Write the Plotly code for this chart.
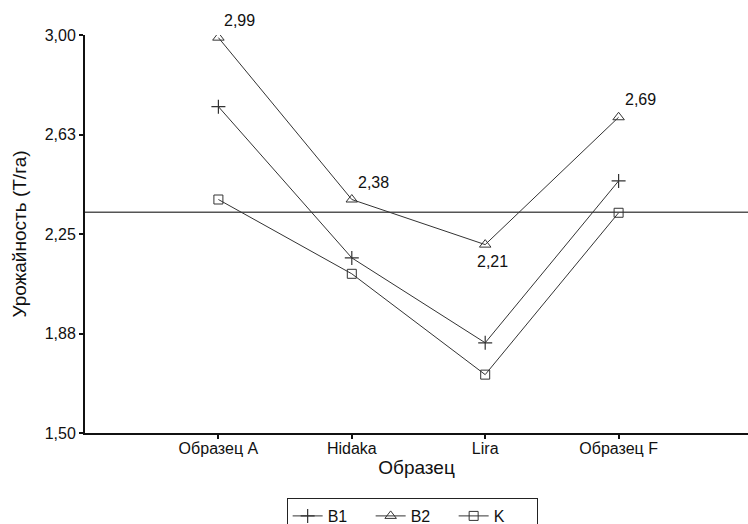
import plotly.graph_objects as go

categories = ["Образец A", "Hidaka", "Lira", "Образец F"]
b1 = [2.73, 2.16, 1.84, 2.45]
b2 = [2.99, 2.38, 2.21, 2.69]
k = [2.38, 2.10, 1.72, 2.33]
b2_labels = ["2,99", "2,38", "2,21", "2,69"]
y_ticks = [1.5, 1.875, 2.25, 2.625, 3.0]
y_tick_labels = ["1,50", "1,88", "2,25", "2,63", "3,00"]

x_idx = list(range(len(categories)))
all_vals = b1 + b2 + k
grand_mean = sum(all_vals) / len(all_vals)

FONT = "Liberation Sans, Arial, sans-serif"
LINE = "#333333"
TEXT = "#111111"

fig = go.Figure()

# overall mean reference line
fig.add_trace(go.Scatter(
    x=[-1, 4], y=[grand_mean, grand_mean], mode="lines",
    line=dict(color="#555555", width=1.5), showlegend=False, hoverinfo="skip"))

fig.add_trace(go.Scatter(
    x=x_idx, y=b1, name="B1", mode="lines+markers",
    line=dict(color=LINE, width=1),
    marker=dict(symbol="cross-thin-open", size=10, color=LINE,
                line=dict(color=LINE, width=1.2))))

fig.add_trace(go.Scatter(
    x=x_idx, y=b2, name="B2", mode="lines+markers",
    line=dict(color=LINE, width=1),
    marker=dict(symbol="triangle-up-open", size=10, color=LINE,
                line=dict(color=LINE, width=1))))

fig.add_trace(go.Scatter(
    x=x_idx, y=k, name="K", mode="lines+markers",
    line=dict(color=LINE, width=1),
    marker=dict(symbol="square-open", size=9, color=LINE,
                line=dict(color=LINE, width=1))))

# value labels for B2: above-right, except the minimum which sits below
for i, (val, lab) in enumerate(zip(b2, b2_labels)):
    below = i == 2
    fig.add_annotation(
        x=i, y=val, text=lab, showarrow=False,
        xanchor="left", yanchor="top" if below else "bottom",
        xshift=-10 if below else 4, yshift=-6 if below else 7,
        font=dict(family=FONT, size=16, color=TEXT))

fig.update_layout(
    width=748, height=524,
    margin=dict(l=85, r=0, t=35, b=91),
    paper_bgcolor="white", plot_bgcolor="white",
    font=dict(family=FONT, size=16, color=TEXT),
    legend=dict(
        orientation="h", xref="container", yref="container",
        x=0.551, y=1 - 498 / 524, xanchor="center", yanchor="top",
        bordercolor="#222222", borderwidth=1,
        font=dict(family=FONT, size=16, color=TEXT),
        itemwidth=30, entrywidth=38, entrywidthmode="pixels",
        tracegroupgap=0),
)

fig.update_xaxes(
    range=[-1, 3.97], tickmode="array", tickvals=x_idx, ticktext=categories,
    showgrid=False, zeroline=False, showline=True, linecolor="#111111", linewidth=2,
    ticks="outside", ticklen=4, tickwidth=1.5, tickcolor="#111111",
    tickfont=dict(family=FONT, size=16), ticklabelstandoff=-4,
    title=dict(text="Образец", font=dict(family=FONT, size=19), standoff=4))

fig.update_yaxes(
    range=[1.5, 3.0], tickmode="array", tickvals=y_ticks, ticktext=y_tick_labels,
    showgrid=False, zeroline=False, showline=True, linecolor="#111111", linewidth=2,
    ticks="outside", ticklen=4, tickwidth=1.5, tickcolor="#111111",
    tickfont=dict(family=FONT, size=16),
    title=dict(text="Урожайность (Т/га)", font=dict(family=FONT, size=19), standoff=13))

fig.write_html("out.html")
